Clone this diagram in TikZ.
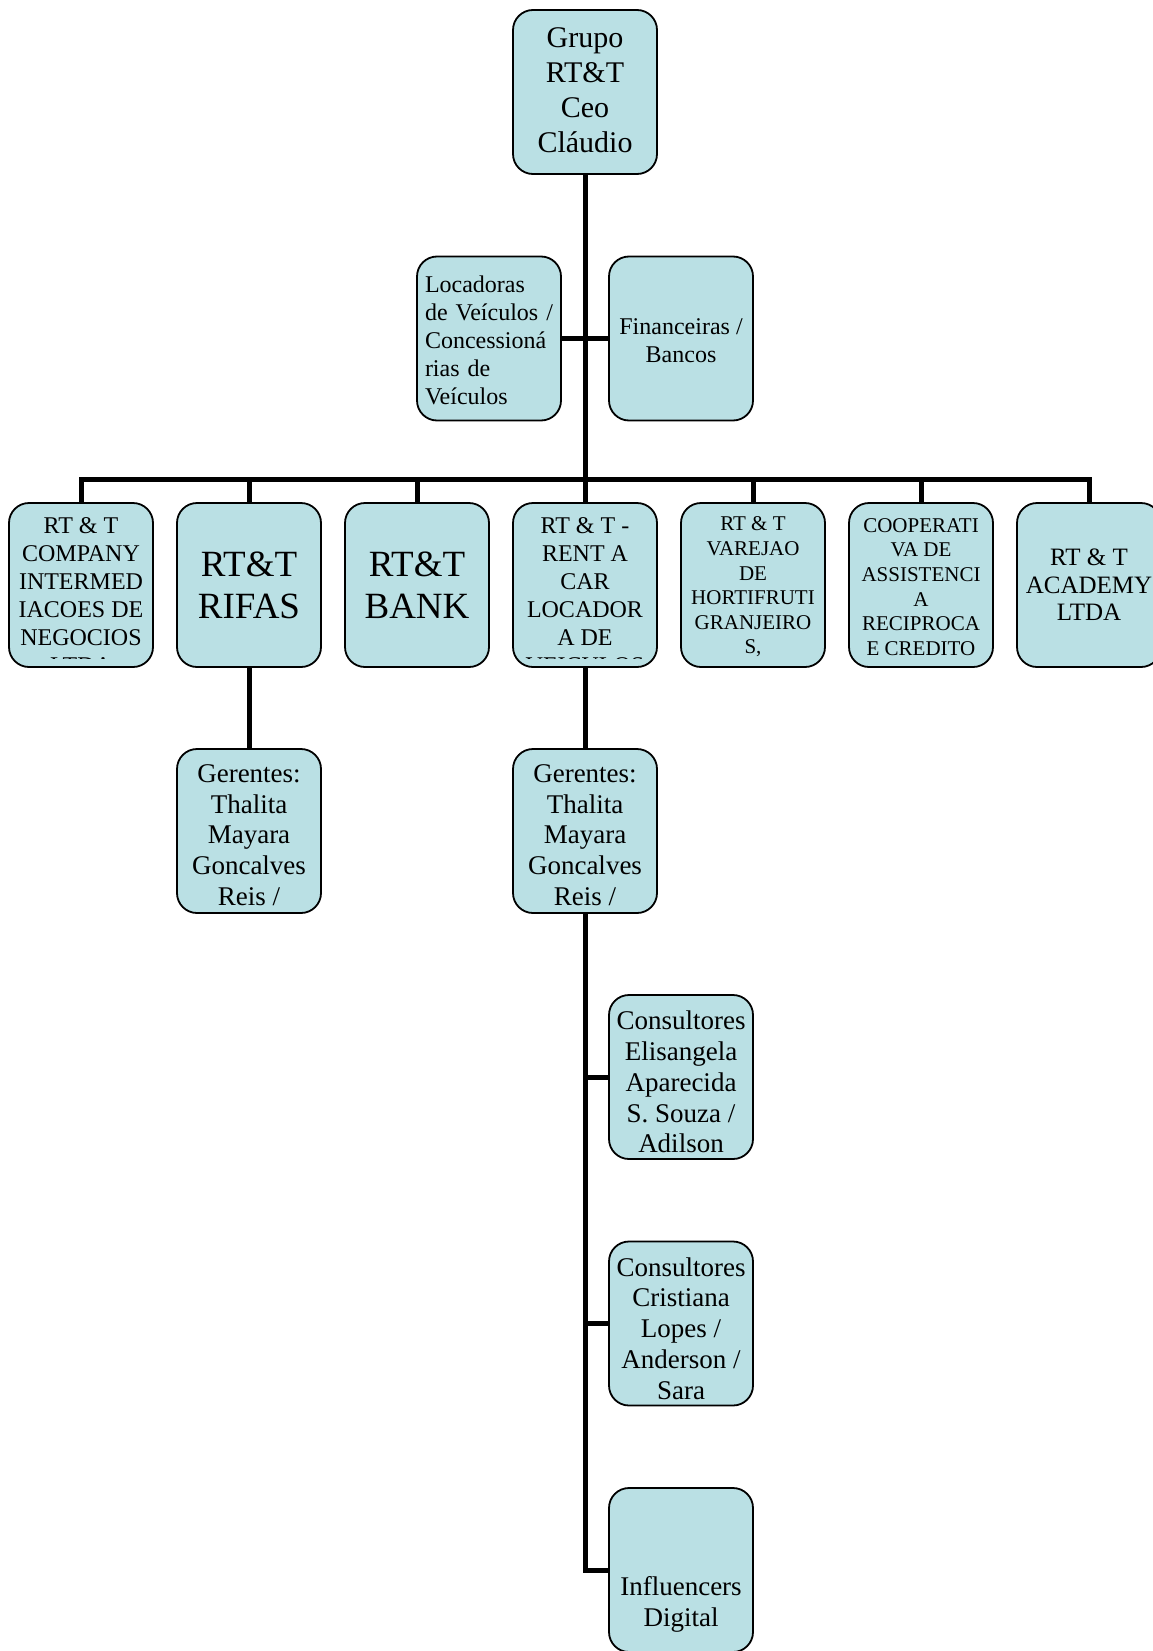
\documentclass[tikz,border=0pt]{standalone}
\usepackage{fontspec}
\setmainfont{Liberation Serif}
\definecolor{unitblue}{RGB}{186,224,228}

\begin{document}
\begin{tikzpicture}[x=1pt, y=-1pt
	, unit/.style={
		rectangle
		, draw
		, line width=1.8pt
		, fill=unitblue
		, rounded corners=20pt
		, minimum width=144pt
		, minimum height=164pt
		, inner sep=0pt
	}
	, inside/.style={
		inner sep=0pt
		, align=center
	}
	, link/.style={line width=5pt}
	, fceo/.style={font=\fontsize{30}{35}\selectfont}
	, fhuge/.style={font=\fontsize{37}{42}\selectfont}
	, fsmall/.style={font=\fontsize{24}{28}\selectfont}
	, ftiny/.style={font=\fontsize{21}{24.6}\selectfont}
	, facad/.style={font=\fontsize{25}{27.5}\selectfont}
	, fmid/.style={font=\fontsize{27}{30.8}\selectfont}
]
\useasboundingbox (0,0) rectangle (1153,1651);
\clip (0,0) rectangle (1153,1651);

% boxes
\node[unit](ceo) at(585,92) {};
\node[unit](loc) at(489,338.5) {};
\node[unit](fin) at(681,338.5) {};
\foreach [count=\i] \x in {81,249,417,585,753,921,1089}{
	\node[unit](u\i) at(\x,585) {};
}
\node[unit](g1) at(249,831) {};
\node[unit](g2) at(585,831) {};
\node[unit](c1) at(681,1077) {};
\node[unit](c2) at(681,1323.5) {};
\node[unit](infl) at(681,1570) {};

% texts
\node[inside, fceo](tceo) at([yshift=2pt]ceo.center) {Grupo\\RT\&T\\Ceo\\Cláudio};
\node[inside, fsmall, align=left, text width=128pt](tloc) at([yshift=-2pt]loc.center)
	{Locadoras\\de Veículos /\\Concessioná\\rias de\\Veículos};
\node[inside, fsmall](tfin) at([yshift=-2pt]fin.center) {Financeiras /\\Bancos};
\begin{scope}
	\clip ([yshift=9pt]u1.south west) rectangle (u1.north east);
	\node[inside, fsmall](t1) at([yshift=-11pt]u1.center)
		{RT \& T\\COMPANY\\INTERMED\\IACOES DE\\NEGOCIOS\\LTDA};
\end{scope}
\node[inside, fhuge](t2) at(u2) {RT\&T\\RIFAS};
\node[inside, fhuge](t3) at(u3) {RT\&T\\BANK};
\begin{scope}
	\clip ([yshift=9pt]u4.south west) rectangle (u4.north east);
	\node[inside, fsmall](t4) at([yshift=-11pt]u4.center)
		{RT \& T -\\RENT A\\CAR\\LOCADOR\\A DE\\VEICULOS};
\end{scope}
\node[inside, ftiny](t5) at([yshift=-2pt]u5.center) {RT \& T\\VAREJAO\\DE\\HORTIFRUTI\\GRANJEIRO\\S,};
\node[inside, ftiny](t6) at([yshift=-2pt]u6.center) {COOPERATI\\VA DE\\ASSISTENCI\\A\\RECIPROCA\\E CREDITO};
\node[inside, facad](t7) at(u7) {RT \& T\\ACADEMY\\LTDA};
\node[inside, fmid](tg1) at([yshift=-4pt]g1.center) {Gerentes:\\Thalita\\Mayara\\Goncalves\\Reis /};
\node[inside, fmid](tg2) at([yshift=-4pt]g2.center) {Gerentes:\\Thalita\\Mayara\\Goncalves\\Reis /};
\node[inside, fmid](tc1) at([yshift=-5pt]c1.center) {Consultores\\Elisangela\\Aparecida\\S. Souza /\\Adilson};
\node[inside, fmid](tc2) at([yshift=-5pt]c2.center) {Consultores\\Cristiana\\Lopes /\\Anderson /\\Sara};
\node[inside, fmid](tinfl) at([yshift=-34pt]infl.center) {Influencers\\Digital};

% connectors
\coordinate(bar) at(585,479);
\draw[link] (ceo) -- (bar);
\draw[link] (loc) -- (fin);
\draw[link] (u1) |- (bar) -| (u7);
\foreach \i in {2,...,6}{
	\draw[link] (bar -| u\i) -- (u\i);
}
\draw[link] (u2) -- (g1);
\draw[link] (u4) -- (g2);
\draw[link] (g2) |- (infl);
\draw[link] (g2 |- c1) -- (c1);
\draw[link] (g2 |- c2) -- (c2);

\end{tikzpicture}
\end{document}
